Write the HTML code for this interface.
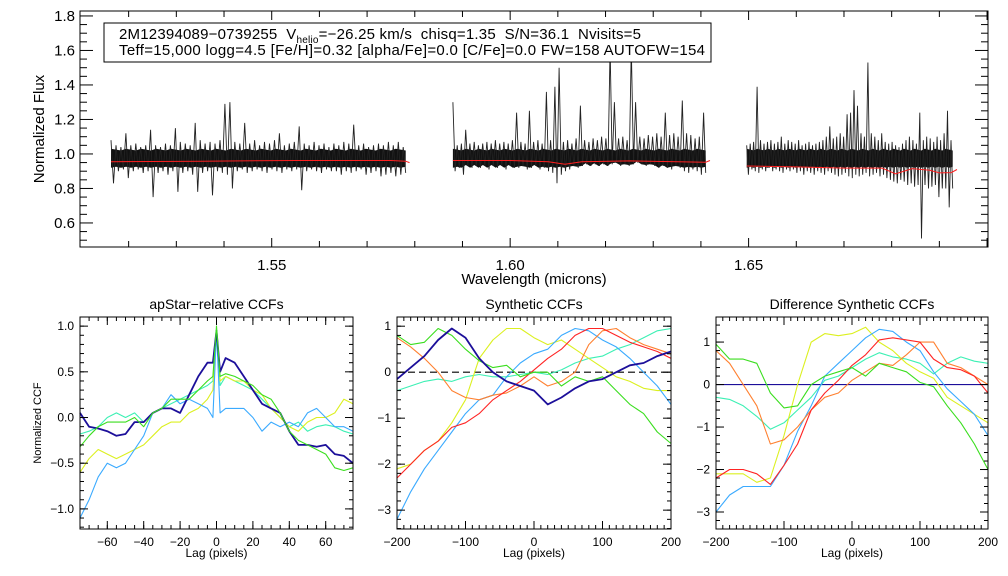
<!DOCTYPE html>
<html><head><meta charset="utf-8"><style>
html,body{margin:0;padding:0;background:#fff;}
svg{display:block;font-family:"Liberation Sans",sans-serif;}
.pre{white-space:pre;}
</style></head><body>
<svg id="c" width="1008" height="576" viewBox="0 0 1008 576" xmlns="http://www.w3.org/2000/svg"></svg>
<script>
// ---- spectrum data ----
const seg1Range=[1.5163,1.5781];
const hi1=[1.08,1.05,1.04,1.12,1.05,1.06,1.04,1.05,1.14,1.05,1.04,1.06,1.05,1.15,1.07,1.06,1.05,1.18,1.08,1.06,1.07,1.06,1.08,1.29,1.30,1.07,1.06,1.18,1.06,1.08,1.05,1.07,1.06,1.08,1.12,1.05,1.06,1.07,1.16,1.06,1.05,1.07,1.05,1.06,1.04,1.06,1.05,1.07,1.06,1.17,1.05,1.06,1.04,1.05,1.06,1.05,1.07,1.05,1.07,1.04];
const lo1=[0.83,0.90,0.91,0.86,0.90,0.91,0.89,0.90,0.75,0.89,0.90,0.88,0.90,0.78,0.89,0.90,0.88,0.78,0.89,0.90,0.76,0.90,0.89,0.88,0.80,0.90,0.91,0.89,0.90,0.91,0.90,0.89,0.91,0.90,0.89,0.91,0.90,0.91,0.79,0.90,0.91,0.90,0.89,0.91,0.90,0.90,0.88,0.90,0.89,0.90,0.91,0.88,0.89,0.90,0.87,0.88,0.89,0.87,0.88,0.89];
const seg2Range=[1.5880,1.6410];
const hi2=[1.30,1.05,1.06,1.14,1.06,1.07,1.05,1.06,1.07,1.06,1.08,1.06,1.07,1.06,1.08,1.24,1.07,1.06,1.25,1.07,1.08,1.06,1.36,1.08,1.39,1.50,1.07,1.08,1.06,1.09,1.28,1.08,1.07,1.09,1.08,1.10,1.09,1.62,1.30,1.09,1.10,1.08,1.62,1.30,1.10,1.09,1.11,1.10,1.12,1.10,1.24,1.11,1.12,1.10,1.31,1.12,1.11,1.09,1.10,1.24];
const lo2=[0.90,0.92,0.88,0.93,0.92,0.93,0.92,0.93,0.91,0.93,0.92,0.93,0.91,0.93,0.92,0.92,0.93,0.91,0.92,0.93,0.91,0.92,0.90,0.89,0.83,0.88,0.90,0.91,0.93,0.92,0.93,0.94,0.93,0.94,0.93,0.94,0.93,0.94,0.95,0.93,0.94,0.93,0.94,0.95,0.94,0.93,0.94,0.93,0.92,0.93,0.92,0.91,0.93,0.92,0.90,0.89,0.91,0.90,0.88,0.89];
const seg3Range=[1.6496,1.6928];
const hi3=[1.05,1.06,1.07,1.39,1.08,1.06,1.07,1.08,1.06,1.07,1.10,1.06,1.08,1.07,1.06,1.08,1.05,1.06,1.07,1.05,1.06,1.07,1.08,1.10,1.16,1.09,1.10,1.12,1.10,1.23,1.24,1.37,1.28,1.12,1.10,1.53,1.12,1.10,1.08,1.12,1.07,1.06,1.07,1.05,1.04,1.06,1.08,1.10,1.08,1.06,1.24,1.08,1.10,1.09,1.07,1.10,1.08,1.12,1.25,1.08];
const lo3=[0.88,0.91,0.90,0.89,0.91,0.90,0.92,0.90,0.91,0.90,0.89,0.91,0.90,0.91,0.89,0.90,0.88,0.90,0.89,0.88,0.90,0.89,0.88,0.90,0.89,0.88,0.87,0.88,0.89,0.87,0.86,0.88,0.87,0.88,0.89,0.87,0.88,0.89,0.87,0.88,0.86,0.85,0.84,0.83,0.85,0.84,0.82,0.83,0.81,0.82,0.51,0.82,0.80,0.81,0.82,0.75,0.80,0.80,0.69,0.80];
const cont1Wl=[1.5163,1.535,1.555,1.575,1.5781,1.5789];
const cont1Val=[0.955,0.958,0.962,0.962,0.958,0.95];
const cont2Wl=[1.588,1.600,1.608,1.6115,1.615,1.625,1.635,1.6410,1.6419];
const cont2Val=[0.962,0.962,0.955,0.94,0.955,0.96,0.955,0.952,0.962];
const cont3Wl=[1.6496,1.660,1.670,1.678,1.6808,1.6843,1.688,1.690,1.6925,1.6937];
const cont3Val=[0.93,0.925,0.918,0.918,0.885,0.915,0.905,0.89,0.892,0.91];
const topYTicks=[0.6,0.8,1.0,1.2,1.4,1.6,1.8];
const topXTicks=[1.55,1.60,1.65];

// ---- CCF data ----
const lag1=[-75,-70,-65,-60,-55,-50,-45,-40,-35,-30,-25,-20,-15,-10,-5,-2,0,2,5,10,15,20,25,30,35,40,45,50,55,60,65,70,75];
const p1Navy=[0.05,-0.1,-0.12,-0.15,-0.2,-0.18,-0.05,-0.05,0.05,0.1,0.1,0.05,0.25,0.45,0.6,0.6,0.95,0.5,0.65,0.6,0.45,0.3,0.15,0.1,0.05,-0.15,-0.3,-0.3,-0.32,-0.3,-0.4,-0.42,-0.5];
const p1Green=[-0.32,-0.2,-0.1,-0.05,-0.05,-0.05,0.0,-0.1,0.05,0.1,0.2,0.2,0.2,0.3,0.4,0.45,1.0,0.45,0.48,0.45,0.4,0.35,0.25,0.2,0.05,-0.15,-0.25,-0.3,-0.35,-0.4,-0.55,-0.58,-0.55];
const p1Cyan=[-0.18,-0.15,-0.1,0.0,0.05,0.0,0.05,-0.05,0.05,0.1,0.15,0.2,0.25,0.3,0.35,0.4,0.9,0.35,0.45,0.4,0.35,0.3,0.2,0.1,0.0,-0.1,-0.05,-0.15,-0.1,-0.08,-0.1,-0.15,-0.18];
const p1Yellow=[-0.6,-0.45,-0.35,-0.4,-0.45,-0.4,-0.35,-0.3,-0.2,-0.1,-0.05,-0.05,0.05,0.1,0.2,0.3,0.95,0.4,0.45,0.4,0.4,0.3,0.25,0.1,0.0,-0.1,-0.15,-0.05,0.0,0.0,0.05,0.2,0.15];
const p1Blue=[-1.1,-0.9,-0.65,-0.5,-0.55,-0.5,-0.35,-0.2,0.05,0.1,0.25,0.15,0.2,0.15,0.1,0.0,0.95,0.05,0.1,0.1,0.1,0.0,-0.15,-0.05,-0.1,-0.05,-0.1,0.05,0.1,0.0,-0.1,-0.1,-0.15];
const p1XTicks=[-60,-40,-20,0,20,40,60];
const p1YTicks=[-1.0,-0.5,0.0,0.5,1.0];

const lag2=[-200,-180,-160,-140,-120,-100,-80,-60,-40,-20,0,20,40,60,80,100,120,140,160,180,200];
const p2Navy=[-0.15,0.1,0.35,0.7,0.95,0.75,0.3,0.0,-0.2,-0.3,-0.4,-0.7,-0.55,-0.35,-0.2,-0.15,0.0,0.15,0.2,0.35,0.45];
const p2Green=[0.8,0.6,0.65,0.95,0.8,0.5,0.25,0.1,0.15,-0.1,0.0,0.0,-0.3,-0.1,-0.2,-0.1,-0.4,-0.7,-0.9,-1.3,-1.55];
const p2Cyan=[-0.4,-0.3,-0.2,-0.15,-0.2,-0.1,-0.05,-0.1,-0.1,-0.05,0.0,-0.05,0.05,0.2,0.3,0.35,0.5,0.6,0.75,0.9,0.95];
const p2Yellow=[-2.1,-2.0,-1.7,-1.5,-1.1,-0.6,0.3,0.7,0.95,0.95,0.75,0.6,0.7,0.5,0.3,0.1,-0.1,-0.2,-0.35,-0.4,-0.4];
const p2Blue=[-3.2,-2.6,-2.1,-1.7,-1.3,-0.9,-0.6,-0.5,-0.1,0.2,0.4,0.5,0.8,0.95,0.9,0.7,0.55,0.3,0.0,-0.3,-0.7];
const p2Orange=[0.75,0.55,0.3,0.0,-0.4,-0.55,-0.6,-0.5,-0.45,-0.3,-0.1,-0.3,-0.2,0.0,0.6,0.9,0.95,0.75,0.6,0.5,0.4];
const p2Red=[-2.3,-2.0,-1.7,-1.5,-1.2,-1.1,-0.9,-0.6,-0.4,-0.2,0.05,0.3,0.5,0.8,0.95,0.95,0.8,0.65,0.55,0.45,0.3];
const p3Green=[0.95,0.6,0.6,0.5,-0.2,-0.55,-0.5,0.0,0.2,0.3,0.4,0.2,0.5,0.4,0.3,0.05,-0.05,-0.5,-0.9,-1.4,-2.0];
const p3Cyan=[-0.3,-0.35,-0.5,-0.75,-1.05,-0.9,-0.6,-0.3,0.1,0.2,0.4,0.6,0.75,0.65,0.6,0.5,0.25,0.5,0.65,0.55,0.5];
const p3Yellow=[-2.1,-2.1,-2.1,-2.3,-2.2,-1.2,0.0,1.0,1.2,1.15,1.2,1.35,1.0,0.8,0.5,0.3,0.15,-0.3,-0.5,-0.7,-0.9];
const p3Blue=[-3.0,-2.6,-2.4,-2.4,-2.4,-1.9,-1.1,-0.5,0.2,0.5,0.8,1.1,1.3,1.25,1.0,0.8,0.3,-0.1,-0.4,-0.7,-1.2];
const p3Orange=[0.8,0.5,0.0,-0.5,-1.4,-1.3,-1.0,-0.6,-0.3,-0.2,0.1,0.3,0.5,0.45,0.7,1.0,1.0,0.5,0.4,0.2,0.0];
const p3Red=[-2.2,-2.0,-2.0,-2.1,-2.35,-1.9,-1.4,-0.6,-0.2,0.1,0.45,0.7,1.05,1.1,1.05,1.0,0.6,0.4,0.35,0.2,-0.2];
const lagTicks=[-200,-100,0,100,200];
const p2YTicks=[-3,-2,-1,0,1];
const p3YTicks=[-3,-2,-1,0,1];

const NS='http://www.w3.org/2000/svg';
const svg=document.getElementById('c');
function mk(tag,attrs,parent){const e=document.createElementNS(NS,tag);for(const k in attrs)e.setAttribute(k,attrs[k]);(parent||svg).appendChild(e);return e;}
function txt(s,x,y,size,anchor,parent){const t=mk('text',{x:x,y:y,'font-size':size,'text-anchor':anchor||'middle',fill:'#000'},parent);t.textContent=s;return t;}
function scale(d0,d1,r0,r1){return v=>r0+(v-d0)/(d1-d0)*(r1-r0);}

// ---- top panel ----
const T={l:80,r:988,t:11,b:247};
const tx=scale(1.5098,1.7002,T.l,T.r), ty=scale(0.4606,1.8287,T.b,T.t);
const gTop=mk('g',{});


function drawSeg(range,hi,lo,name){
  const n=hi.length;
  // dense core band
  const band=[];
  for(let i=0;i<n;i++){const w=range[0]+(range[1]-range[0])*i/(n-1);band.push(tx(w).toFixed(1)+','+ty(Math.min(hi[i],1.03)-0.005*(i%3)).toFixed(1));}
  for(let i=n-1;i>=0;i--){const w=range[0]+(range[1]-range[0])*i/(n-1);band.push(tx(w).toFixed(1)+','+ty(Math.max(lo[i],0.92)+0.006*(i%2)).toFixed(1));}
  mk('polygon',{points:band.join(' '),fill:'#111',stroke:'none'},gTop);
  const pts=[];
  for(let i=0;i<n;i++){
    const w0=range[0]+(range[1]-range[0])*(2*i)/(2*n-1);
    const w1=range[0]+(range[1]-range[0])*(2*i+1)/(2*n-1);
    pts.push(tx(w0).toFixed(1)+','+ty(hi[i]).toFixed(1));
    pts.push(tx(w1).toFixed(1)+','+ty(lo[i]).toFixed(1));
  }
  const p=mk('polyline',{points:pts.join(' '),fill:'none',stroke:'#222','stroke-width':0.9},gTop);
  
  
}
function drawCont(wl,val,name){
  const p=mk('polyline',{points:wl.map((w,i)=>tx(w).toFixed(1)+','+ty(val[i]).toFixed(1)).join(' '),fill:'none',stroke:'#ff2020','stroke-width':1},gTop);
  
  
}
drawSeg(seg1Range,hi1,lo1,'spectrum-chip-blue');
drawSeg(seg2Range,hi2,lo2,'spectrum-chip-green');
drawSeg(seg3Range,hi3,lo3,'spectrum-chip-red');
drawCont(cont1Wl,cont1Val,'continuum-blue');
drawCont(cont2Wl,cont2Val,'continuum-green');
drawCont(cont3Wl,cont3Val,'continuum-red');
mk('rect',{x:T.l,y:T.t,width:T.r-T.l,height:T.b-T.t,fill:'none',stroke:'#000','stroke-width':1},gTop);
for(let v=0.5;v<=1.8001;v+=0.05){const y=ty(v);const maj=Math.abs(v*5-Math.round(v*5))<1e-6;const L=maj?13:7;
  mk('line',{x1:T.l,x2:T.l+L,y1:y,y2:y,stroke:'#000'},gTop);mk('line',{x1:T.r,x2:T.r-L,y1:y,y2:y,stroke:'#000'},gTop);}
for(let v=1.52;v<=1.7001;v+=0.01){const x=tx(v);const maj=Math.abs(v*20-Math.round(v*20))<1e-6;const L=maj?9:6;
  mk('line',{x1:x,x2:x,y1:T.b,y2:T.b-L,stroke:'#000'},gTop);mk('line',{x1:x,x2:x,y1:T.t,y2:T.t+L,stroke:'#000'},gTop);}
topYTicks.forEach(v=>{const t=txt(v.toFixed(1),T.l-5,ty(v)+5,15,'end',gTop);});
topXTicks.forEach(v=>{const t=txt(v.toFixed(2),tx(v),270,15,'middle',gTop);});
</script>
<script>
(function(){
const svg=document.getElementById('c');
svg.insertAdjacentHTML('beforeend',
'<text x="534" y="284" font-size="15" text-anchor="middle">Wavelength (microns)</text>'+
'<text transform="translate(44,129) rotate(-90)" font-size="15" text-anchor="middle">Normalized Flux</text>'+
'<g><rect x="104" y="23" width="607" height="39" fill="#fff" stroke="#000" stroke-width="1"/>'+
'<text class="pre" x="119" y="39" font-size="15" textLength="522">2M12394089−0739255  V<tspan font-size="10" dy="4">helio</tspan><tspan dy="-4">=−26.25 km/s  chisq=1.35  S/N=36.1  Nvisits=5</tspan></text>'+
'<text class="pre" x="119" y="55" font-size="15" textLength="586">Teff=15,000 logg=4.5 [Fe/H]=0.32 [alpha/Fe]=0.0 [C/Fe]=0.0 FW=158 AUTOFW=154</text></g>');
})();
</script>
<script>
// ---- bottom panels ----
function panel(cfg){
  const g=mk('g',{});
  
  
  const X=scale(cfg.xd[0],cfg.xd[1],cfg.l,cfg.r), Y=scale(cfg.yd[0],cfg.yd[1],cfg.b,cfg.t);
  if(cfg.zero){const z=mk('line',{x1:cfg.l,x2:cfg.r,y1:Y(0),y2:Y(0),stroke:cfg.zero,'stroke-width':1.2,'stroke-dasharray':cfg.dash||'none'},g);
    }
  cfg.series.forEach(s=>{
    const p=mk('polyline',{points:cfg.lags.map((l,i)=>X(l).toFixed(1)+','+Y(s.v[i]).toFixed(1)).join(' '),fill:'none',stroke:s.c,'stroke-width':s.w||1.1,'stroke-linejoin':'round'},g);
    
    
  });
  mk('rect',{x:cfg.l,y:cfg.t,width:cfg.r-cfg.l,height:cfg.b-cfg.t,fill:'none',stroke:'#000','stroke-width':1},g);
  for(let v=cfg.xd[0];v<=cfg.xd[1]+1e-6;v+=cfg.xm){const x=X(v);mk('line',{x1:x,x2:x,y1:cfg.b,y2:cfg.b-4,stroke:'#000'},g);mk('line',{x1:x,x2:x,y1:cfg.t,y2:cfg.t+4,stroke:'#000'},g);}
  for(let v=Math.ceil(cfg.yd[0]/cfg.ym)*cfg.ym;v<=cfg.yd[1]+1e-6;v+=cfg.ym){const y=Y(v);mk('line',{x1:cfg.l,x2:cfg.l+4,y1:y,y2:y,stroke:'#000'},g);mk('line',{x1:cfg.r,x2:cfg.r-4,y1:y,y2:y,stroke:'#000'},g);}
  cfg.xt.forEach(v=>{const x=X(v);mk('line',{x1:x,x2:x,y1:cfg.b,y2:cfg.b-8,stroke:'#000'},g);mk('line',{x1:x,x2:x,y1:cfg.t,y2:cfg.t+8,stroke:'#000'},g);
    const t=txt(String(v).replace('-','−'),x,cfg.b+17,12,'middle',g);});
  cfg.yt.forEach(v=>{const y=Y(v);mk('line',{x1:cfg.l,x2:cfg.l+8,y1:y,y2:y,stroke:'#000'},g);mk('line',{x1:cfg.r,x2:cfg.r-8,y1:y,y2:y,stroke:'#000'},g);
    const t=txt(cfg.yf(v).replace('-','−'),cfg.l-6,y+4,12,'end',g);});
  const ti=txt(cfg.title,(cfg.l+cfg.r)/2,309,14,'middle',g);
  const xl=txt('Lag (pixels)',(cfg.l+cfg.r)/2,557,12,'middle',g);
  return g;
}
const NAVY='#1c0f9a',GREEN='#3ade1e',CYAN='#3cf0b4',YEL='#dcf020',BLUE='#3aaaff',ORANGE='#ff8030',RED='#ff2424';
panel({name:'apstar-ccf-panel',l:80,r:353,t:317,b:529,xd:[-75,75],yd:[-1.22,1.1],xm:5,ym:0.1,xt:p1XTicks,yt:p1YTicks,yf:v=>v.toFixed(1),lags:lag1,title:'apStar−relative CCFs',
 series:[{n:'ccf-cyan',c:CYAN,v:p1Cyan},{n:'ccf-yellow',c:YEL,v:p1Yellow},{n:'ccf-lightblue',c:BLUE,v:p1Blue},{n:'ccf-navy',c:NAVY,v:p1Navy,w:1.8},{n:'ccf-green',c:GREEN,v:p1Green}]});
panel({name:'synthetic-ccf-panel',l:397,r:671,t:317,b:529,xd:[-200,200],yd:[-3.41,1.2],xm:10,ym:0.2,xt:lagTicks,yt:p2YTicks,yf:v=>String(v),lags:lag2,title:'Synthetic CCFs',zero:'#000',dash:'7,4',
 series:[{n:'ccf-cyan',c:CYAN,v:p2Cyan},{n:'ccf-yellow',c:YEL,v:p2Yellow},{n:'ccf-lightblue',c:BLUE,v:p2Blue},{n:'ccf-orange',c:ORANGE,v:p2Orange},{n:'ccf-red',c:RED,v:p2Red},{n:'ccf-green',c:GREEN,v:p2Green},{n:'ccf-navy',c:NAVY,v:p2Navy,w:1.8}]});
panel({name:'difference-ccf-panel',l:716,r:988,t:317,b:529,xd:[-200,200],yd:[-3.4,1.59],xm:10,ym:0.2,xt:lagTicks,yt:p3YTicks,yf:v=>String(v),lags:lag2,title:'Difference Synthetic CCFs',zero:NAVY,
 series:[{n:'ccf-cyan',c:CYAN,v:p3Cyan},{n:'ccf-yellow',c:YEL,v:p3Yellow},{n:'ccf-lightblue',c:BLUE,v:p3Blue},{n:'ccf-orange',c:ORANGE,v:p3Orange},{n:'ccf-red',c:RED,v:p3Red},{n:'ccf-green',c:GREEN,v:p3Green}]});
const yl=txt('Normalized CCF',0,0,11,'middle');
yl.setAttribute('transform','translate(41,423) rotate(-90)');


</script>
</body></html>
